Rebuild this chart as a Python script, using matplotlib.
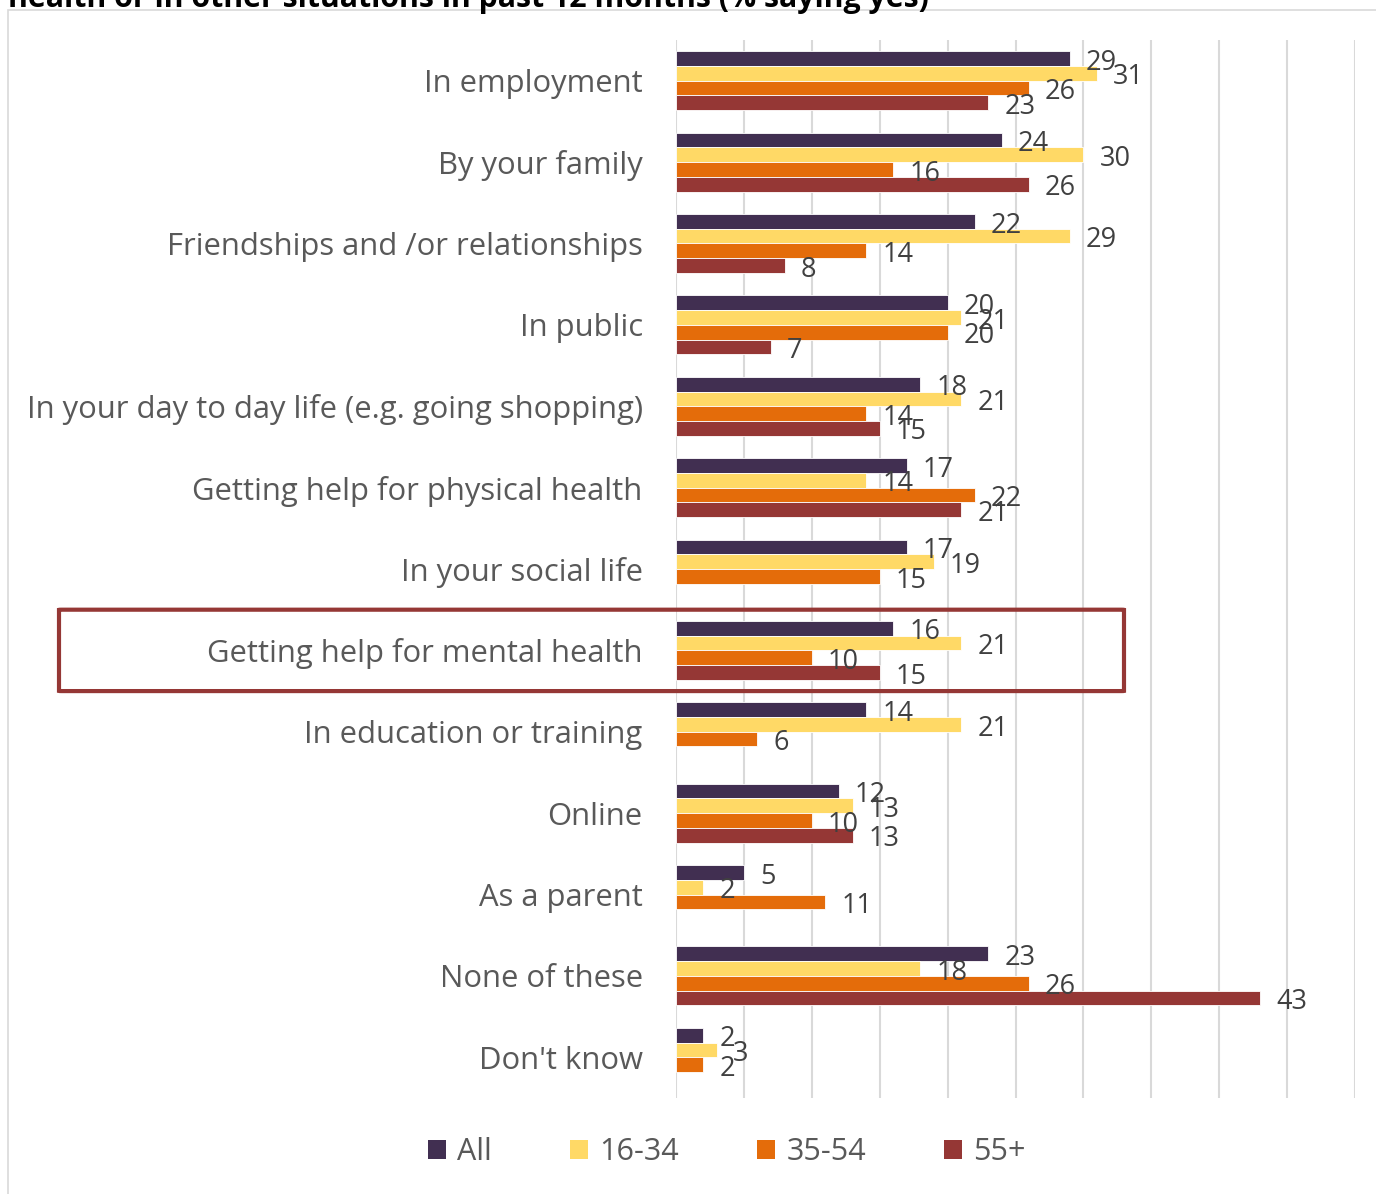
import numpy as np
import matplotlib
matplotlib.use("Agg")
import matplotlib.pyplot as plt
from matplotlib.patches import Rectangle, FancyBboxPatch
import matplotlib.transforms as mtransforms

plt.rcParams['font.family'] = ['Open Sans', 'DejaVu Sans']

categories = [
    "In employment",
    "By your family",
    "Friendships and /or relationships",
    "In public",
    "In your day to day life (e.g. going shopping)",
    "Getting help for physical health",
    "In your social life",
    "Getting help for mental health",
    "In education or training",
    "Online",
    "As a parent",
    "None of these",
    "Don't know",
]
series_names = ["All", "16-34", "35-54", "55+"]
all_vals = [29, 24, 22, 20, 18, 17, 17, 16, 14, 12, 5, 23, 2]
age_16_34 = [31, 30, 29, 21, 21, 14, 19, 21, 21, 13, 2, 18, 3]
age_35_54 = [26, 16, 14, 20, 14, 22, 15, 10, 6, 10, 11, 26, 2]
age_55_plus = [23, 26, 8, 7, 15, 21, None, 15, None, 13, None, 43, None]
title_text = "health or in other situations in past 12 months (% saying yes)"
highlight = "Getting help for mental health"

colors = ["#412f51", "#ffd966", "#e46c0a", "#953735"]

W, H = 1376, 1194
fig = plt.figure(figsize=(W / 100, H / 100), dpi=100)
ax = fig.add_axes([676 / W, 1 - 1098 / H, (1355 - 676) / W, (1098 - 40) / H])

y = np.arange(len(categories))
bh = 0.181
series = [all_vals, age_16_34, age_35_54, age_55_plus]
for i, (vals, c, name) in enumerate(zip(series, colors, series_names)):
    vv = np.array([np.nan if v is None else v for v in vals], dtype=float)
    pos = y + (i - 1.5) * bh
    mask = ~np.isnan(vv)
    ax.barh(pos[mask], vv[mask], height=bh, color=c, edgecolor="white",
            linewidth=0.6, label=name, zorder=3)
    for p, v in zip(pos[mask], vv[mask]):
        ax.annotate(f"{int(v)}", xy=(v, p), xytext=(11.5, -3), textcoords="offset points",
                    ha="left", va="center", fontsize=19.5, color="#404040", zorder=5)

ax.set_xlim(0, 50)
ax.set_ylim(len(categories) - 0.5, -0.5)
ax.set_xticks(np.arange(0, 51, 5))
ax.set_xticklabels([])
ax.set_yticks(y)
ax.set_yticklabels(categories, fontsize=22.3, color="#595959")
ax.tick_params(axis="both", length=0, pad=24)
ax.grid(axis="x", color="#d9d9d9", linewidth=1.5, zorder=0)
for s in ax.spines.values():
    s.set_visible(False)
ax.set_axisbelow(True)

# outer chart frame (partially cropped)
fig.add_artist(Rectangle((8 / W, -0.05), 1.1, (1 - 10 / H) + 0.05, transform=fig.transFigure,
                         fill=False, edgecolor="#d9d9d9", linewidth=1.2))

# cropped title
fig.text(8 / W, 1 - 7 / H, title_text, fontsize=21.8, fontweight="bold", color="black",
         ha="left", va="baseline")

# highlight box
idx = categories.index(highlight)
trans = mtransforms.blended_transform_factory(fig.transFigure, ax.transData)
box = FancyBboxPatch((59 / W, idx - 0.5), (1124 - 59) / W, 1.0,
                     boxstyle="round,pad=0,rounding_size=0.002", transform=trans,
                     fill=False, edgecolor="#953735", linewidth=3, clip_on=False, zorder=6)
fig.add_artist(box)

handles, labels = ax.get_legend_handles_labels()
leg = fig.legend(handles, labels, loc="center", bbox_to_anchor=(727 / W, 1 - 1152 / H), ncol=4,
                 frameon=False, fontsize=22, handlelength=0.58, handleheight=0.58,
                 handletextpad=0.38, columnspacing=2.55, labelcolor="#595959")
for h in leg.legend_handles:
    h.set_linewidth(0)

fig.savefig("out.png", dpi=100)
